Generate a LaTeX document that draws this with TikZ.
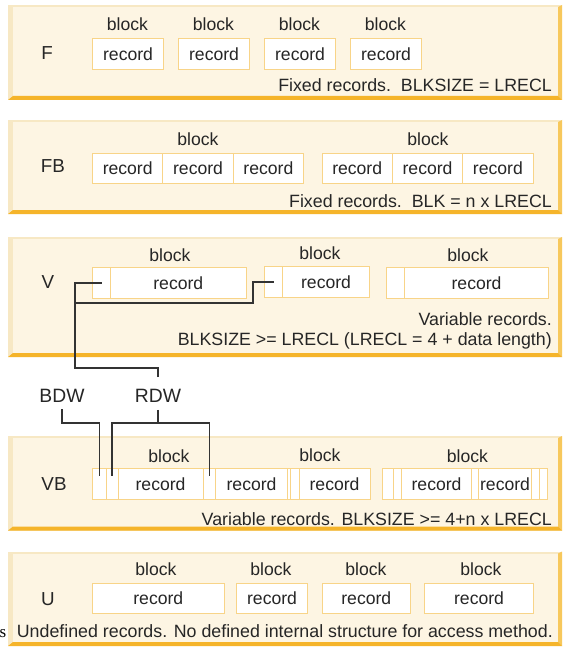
\documentclass[tikz,border=0pt]{standalone}
\usepackage{fontspec}
\setmainfont{Liberation Sans}
\newfontfamily\seriffam{Liberation Serif}
\definecolor{txt}{HTML}{262626}
\definecolor{panelfill}{HTML}{FDF5E3}
\definecolor{bevel}{HTML}{F7E8C4}
\definecolor{orangeb}{HTML}{F5B42A}
\definecolor{oranger}{HTML}{F7C85C}
\definecolor{cellb}{HTML}{F8D488}
\definecolor{linec}{HTML}{333333}
\newcommand\fs{\fontsize{17.6}{20}\selectfont}
\newcommand\fcap{\fontsize{17.8}{20}\selectfont}
\newcommand\fbig{\fontsize{18.8}{21}\selectfont}
\newcommand\panelbox[2]{%
  \fill[bevel] (8,#1) rectangle (562,#2);
  \fill[panelfill] (13,#1+2) rectangle (558,#2-4);
  \fill[oranger] (558,#1+2) -- (562,#1) -- (562,#2) -- (558,#2-4) -- cycle;
  \fill[orangeb] (8,#2) -- (562,#2) -- (558,#2-4) -- (13,#2-4) -- cycle;
}
\newcommand\cbox[6]{\node[cellsty, minimum width={(#3-#2)*1pt}, minimum height={(#5-#4)*1pt}] (#1) at (#2,#4) {#6};}
\begin{document}
\begin{tikzpicture}[x=1pt,y=-1pt,
  lbl/.style={text=txt, font=\fs, inner sep=0pt},
  side/.style={text=txt, font=\fbig, inner sep=0pt},
  captxt/.style={text=txt, font=\fcap, inner sep=0pt, anchor=base east},
  cellsty/.style={draw=cellb, fill=white, line width=1.1pt, inner sep=0pt, anchor=north west, text=txt, font=\fs},
  conn/.style={draw=linec, line width=1.6pt}]
\useasboundingbox (0,0) rectangle (576,658);
\fill[white] (0,0) rectangle (576,658);

% ---------- F ----------
\panelbox{5}{100}
\node[side] (lF) at (47,53) {F};
\cbox{f1}{92}{163}{38}{69}{record}
\cbox{f2}{178}{249}{38}{69}{record}
\cbox{f3}{264}{335}{38}{69}{record}
\cbox{f4}{350}{421}{38}{69}{record}
\node[lbl] (bf1) at (127.5,24) {block};
\node[lbl] (bf2) at (213.5,24) {block};
\node[lbl] (bf3) at (299.5,24) {block};
\node[lbl] (bf4) at (385.5,24) {block};
\node[captxt] (cF) at (552,91.5) {Fixed records.\ \ BLKSIZE = LRECL};

% ---------- FB ----------
\panelbox{120}{214}
\node[side] (lFB) at (53,166.5) {FB};
\cbox{fb1}{92}{162.3}{152.5}{183}{record}
\cbox{fb2}{162.3}{232.7}{152.5}{183}{record}
\cbox{fb3}{232.7}{303}{152.5}{183}{record}
\cbox{fb4}{321.5}{391.8}{152.5}{183}{record}
\cbox{fb5}{391.8}{462.2}{152.5}{183}{record}
\cbox{fb6}{462.2}{532.5}{152.5}{183}{record}
\node[lbl] (bfb1) at (198,139) {block};
\node[lbl] (bfb2) at (428,139) {block};
\node[captxt] (cFB) at (552,207) {Fixed records.\ \ BLK = n x LRECL};

% ---------- V ----------
\panelbox{237}{357}
\node[side] (lV) at (48,282.5) {V};
\cbox{v1a}{92}{110}{267}{298}{}
\cbox{v1b}{110}{245.5}{267}{298}{record}
\cbox{v2a}{264}{282}{266}{297}{}
\cbox{v2b}{282}{369}{266}{297}{record}
\cbox{v3a}{386}{404}{267}{298}{}
\cbox{v3b}{404}{548}{267}{298}{record}
\node[lbl] (bv1) at (170,255) {block};
\node[lbl] (bv2) at (320,253) {block};
\node[lbl] (bv3) at (468,255) {block};
\node[captxt] (cV1) at (552,325) {Variable records.};
\node[captxt] (cV2) at (552,345) {BLKSIZE >= LRECL (LRECL = 4 + data length)};

% ---------- VB ----------
\panelbox{436}{530.5}
\node[side] (lVB) at (54,484) {VB};
\cbox{vb1}{92}{105.5}{467.5}{499}{}
\cbox{vb2}{105.5}{117.5}{467.5}{499}{}
\cbox{vb3}{117.5}{202.5}{467.5}{499}{record}
\cbox{vb4}{202.5}{215}{467.5}{499}{}
\cbox{vb5}{215}{287}{467.5}{499}{record}
\cbox{vb6a}{287}{289.5}{467.5}{499}{}
\cbox{vb6}{289.5}{298.5}{467.5}{499}{}
\cbox{vb7}{298.5}{369.5}{467.5}{499}{record}
\cbox{vb8}{382}{393}{467.5}{499}{}
\cbox{vb9}{393}{401}{467.5}{499}{}
\cbox{vb10}{401}{471}{467.5}{499}{record}
\cbox{vb11}{471}{478}{467.5}{499}{}
\cbox{vb12}{478}{531}{467.5}{499}{record}
\cbox{vb13}{531}{538.5}{467.5}{499}{}
\cbox{vb14}{538.5}{547}{467.5}{499}{}
\node[lbl] (bvb1) at (169,456) {block};
\node[lbl] (bvb2) at (320,455) {block};
\node[lbl] (bvb3) at (467.5,456.5) {block};
\node[captxt] (cVB) at (552,525) {Variable records. BLKSIZE >= 4+n x LRECL};

% ---------- U ----------
\panelbox{551.5}{646}
\node[side] (lU) at (48,599) {U};
\cbox{u1}{92}{223.5}{583}{613}{record}
\cbox{u2}{236}{307}{583}{613}{record}
\cbox{u3}{321.5}{410}{583}{613}{record}
\cbox{u4}{424}{533}{583}{613}{record}
\node[lbl] (bu1) at (156,569) {block};
\node[lbl] (bu2) at (271,569) {block};
\node[lbl] (bu3) at (366,569) {block};
\node[lbl] (bu4) at (481,569) {block};
\node[captxt] (cU) at (553,637) {Undefined records. No defined internal structure for access method.};
\node[text=black, font=\seriffam\fontsize{17}{19}\selectfont, inner sep=0pt, anchor=base east] (sfrag) at (6.5,637) {s};

% ---------- BDW / RDW ----------
\node[side, font=\fontsize{19.3}{22}\selectfont] (BDW) at (62,396.3) {BDW};
\node[side, font=\fontsize{19.3}{22}\selectfont] (RDW) at (158,396.3) {RDW};
\coordinate (rj) at (158,422.7);
\coordinate (vj) at (75,302.7);

\draw[conn, shorten <=12.3pt] (RDW.north) |- (75,368) |- (v1a.center);
\draw[conn] (vj) -- (252.7,302.7) |- (v2a.center);
\draw[conn, shorten <=6.7pt] (RDW.south) -- (rj);
\draw[conn, shorten <=8pt, shorten >=8pt] (vb2.center) -- (vb2.center |- rj) -- (vb4.center |- rj) -- (vb4.center);
\draw[conn, shorten <=6.2pt, shorten >=8pt] (BDW.south) |- (vb1.center |- rj) -- (vb1.center);
\end{tikzpicture}
\end{document}
